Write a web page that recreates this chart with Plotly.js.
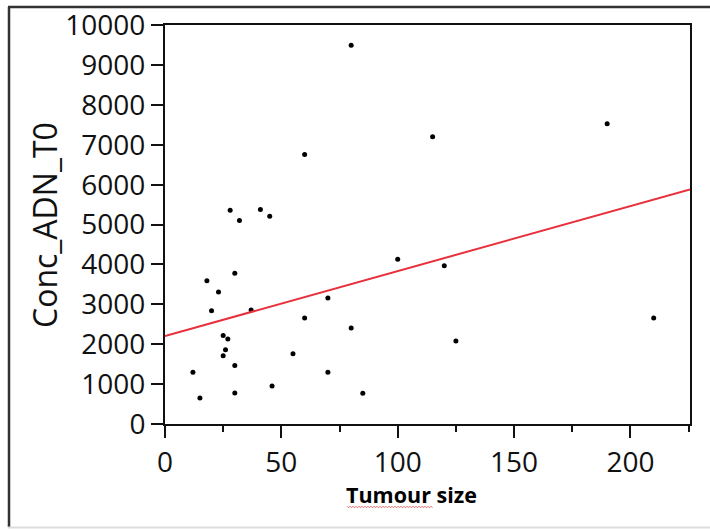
<!DOCTYPE html>
<html>
<head>
<meta charset="utf-8">
<script src="https://cdn.plot.ly/plotly-3.0.1.min.js"></script>
<style>html,body{margin:0;padding:0;background:#fff;}#chart{width:710px;height:529px;}</style>
</head>
<body>
<div id="chart"></div>
<script>
// Tumour size (x) and Conc_ADN_T0 (y)
const tumourSize = [80, 60, 28, 32, 41, 45, 115, 190, 100, 120, 18, 30, 23, 20, 37, 70,
                    60, 80, 25, 27, 26, 25, 55, 30, 12, 70, 46, 15, 30, 85, 210, 125];
const concADN = [9500, 6760, 5360, 5100, 5380, 5210, 7200, 7530, 4130, 3970, 3590, 3780, 3310, 2840, 2860, 3160,
                 2660, 2410, 2220, 2130, 1860, 1710, 1760, 1470, 1300, 1300, 950, 650, 780, 770, 2660, 2080];
// Fitted line ends
const fitX = [0, 225.6];
const fitY = [2205, 5880];

const xTicks = [0, 50, 100, 150, 200];
const yTicks = [0, 1000, 2000, 3000, 4000, 5000, 6000, 7000, 8000, 9000, 10000];

const W = 710, H = 529, L = 165, R = 20, T = 25, B = 105;
const pw = W - L - R, ph = H - T - B;
const px = v => (v - L) / pw;
const py = v => (H - B - v) / ph;

// spell-check squiggle under "Tumour"
let sq = '';
const sx0 = 347, sx1 = 433, sy = 507;
let k = 0;
for (let xx = sx0; xx <= sx1; xx += 1.5, k++) {
  const yy = sy + (k % 2 === 0 ? -0.8 : 0.8);
  sq += (k === 0 ? 'M ' : ' L ') + px(xx).toFixed(5) + ',' + py(yy).toFixed(5);
}

const data = [
  {
    x: tumourSize, y: concADN, type: 'scatter', mode: 'markers',
    marker: {color: '#000', size: 5}, hoverinfo: 'skip', cliponaxis: false
  },
  {
    x: fitX, y: fitY, type: 'scatter', mode: 'lines',
    line: {color: '#e8303c', width: 2}, hoverinfo: 'skip'
  }
];

const tickFont = {family: 'Open Sans, sans-serif', size: 28, color: '#111'};

const layout = {
  width: W, height: H,
  margin: {l: L, r: R, t: T, b: B, pad: 0},
  paper_bgcolor: '#fff', plot_bgcolor: '#fff',
  showlegend: false,
  xaxis: {
    range: [0, 225.6], tickvals: xTicks, ticktext: xTicks.map(String),
    showgrid: false, zeroline: false,
    showline: true, linecolor: '#111', linewidth: 2, mirror: true,
    ticks: 'outside', ticklen: 12, tickwidth: 2, tickcolor: '#111',
    minor: {tickvals: [25, 75, 125, 175, 225], ticks: 'outside', ticklen: 6, tickwidth: 2, tickcolor: '#111', showgrid: false},
    tickfont: tickFont
  },
  yaxis: {
    range: [0, 10005], tickvals: yTicks, ticktext: yTicks.map(String),
    showgrid: false, zeroline: false,
    showline: true, linecolor: '#111', linewidth: 2, mirror: true,
    ticks: 'outside', ticklen: 12, tickwidth: 2, tickcolor: '#111',
    tickfont: tickFont
  },
  annotations: [
    {
      text: 'Conc_ADN_T0', xref: 'paper', yref: 'paper',
      x: px(44), y: py(225), xanchor: 'center', yanchor: 'middle',
      textangle: -90, showarrow: false,
      font: {family: 'Open Sans, sans-serif', size: 32, color: '#111'}
    },
    {
      text: '<b>Tumour size</b>', xref: 'paper', yref: 'paper',
      x: px(411), y: py(494), xanchor: 'center', yanchor: 'middle',
      showarrow: false,
      font: {family: 'Open Sans, sans-serif', size: 21.5, color: '#000'}
    }
  ],
  shapes: [
    {type: 'line', xref: 'paper', yref: 'paper', x0: px(9), x1: px(9), y0: py(7), y1: py(527),
     line: {color: '#333', width: 2.5}},
    {type: 'line', xref: 'paper', yref: 'paper', x0: px(8), x1: px(712), y0: py(7), y1: py(7),
     line: {color: '#333', width: 2.5}},
    {type: 'line', xref: 'paper', yref: 'paper', x0: px(8), x1: px(712), y0: py(527.5), y1: py(527.5),
     line: {color: '#ddd', width: 2}},
    {type: 'path', xref: 'paper', yref: 'paper', path: sq, line: {color: '#e05050', width: 0.8}}
  ]
};

Plotly.newPlot('chart', data, layout, {staticPlot: true, displayModeBar: false});
</script>
</body>
</html>
